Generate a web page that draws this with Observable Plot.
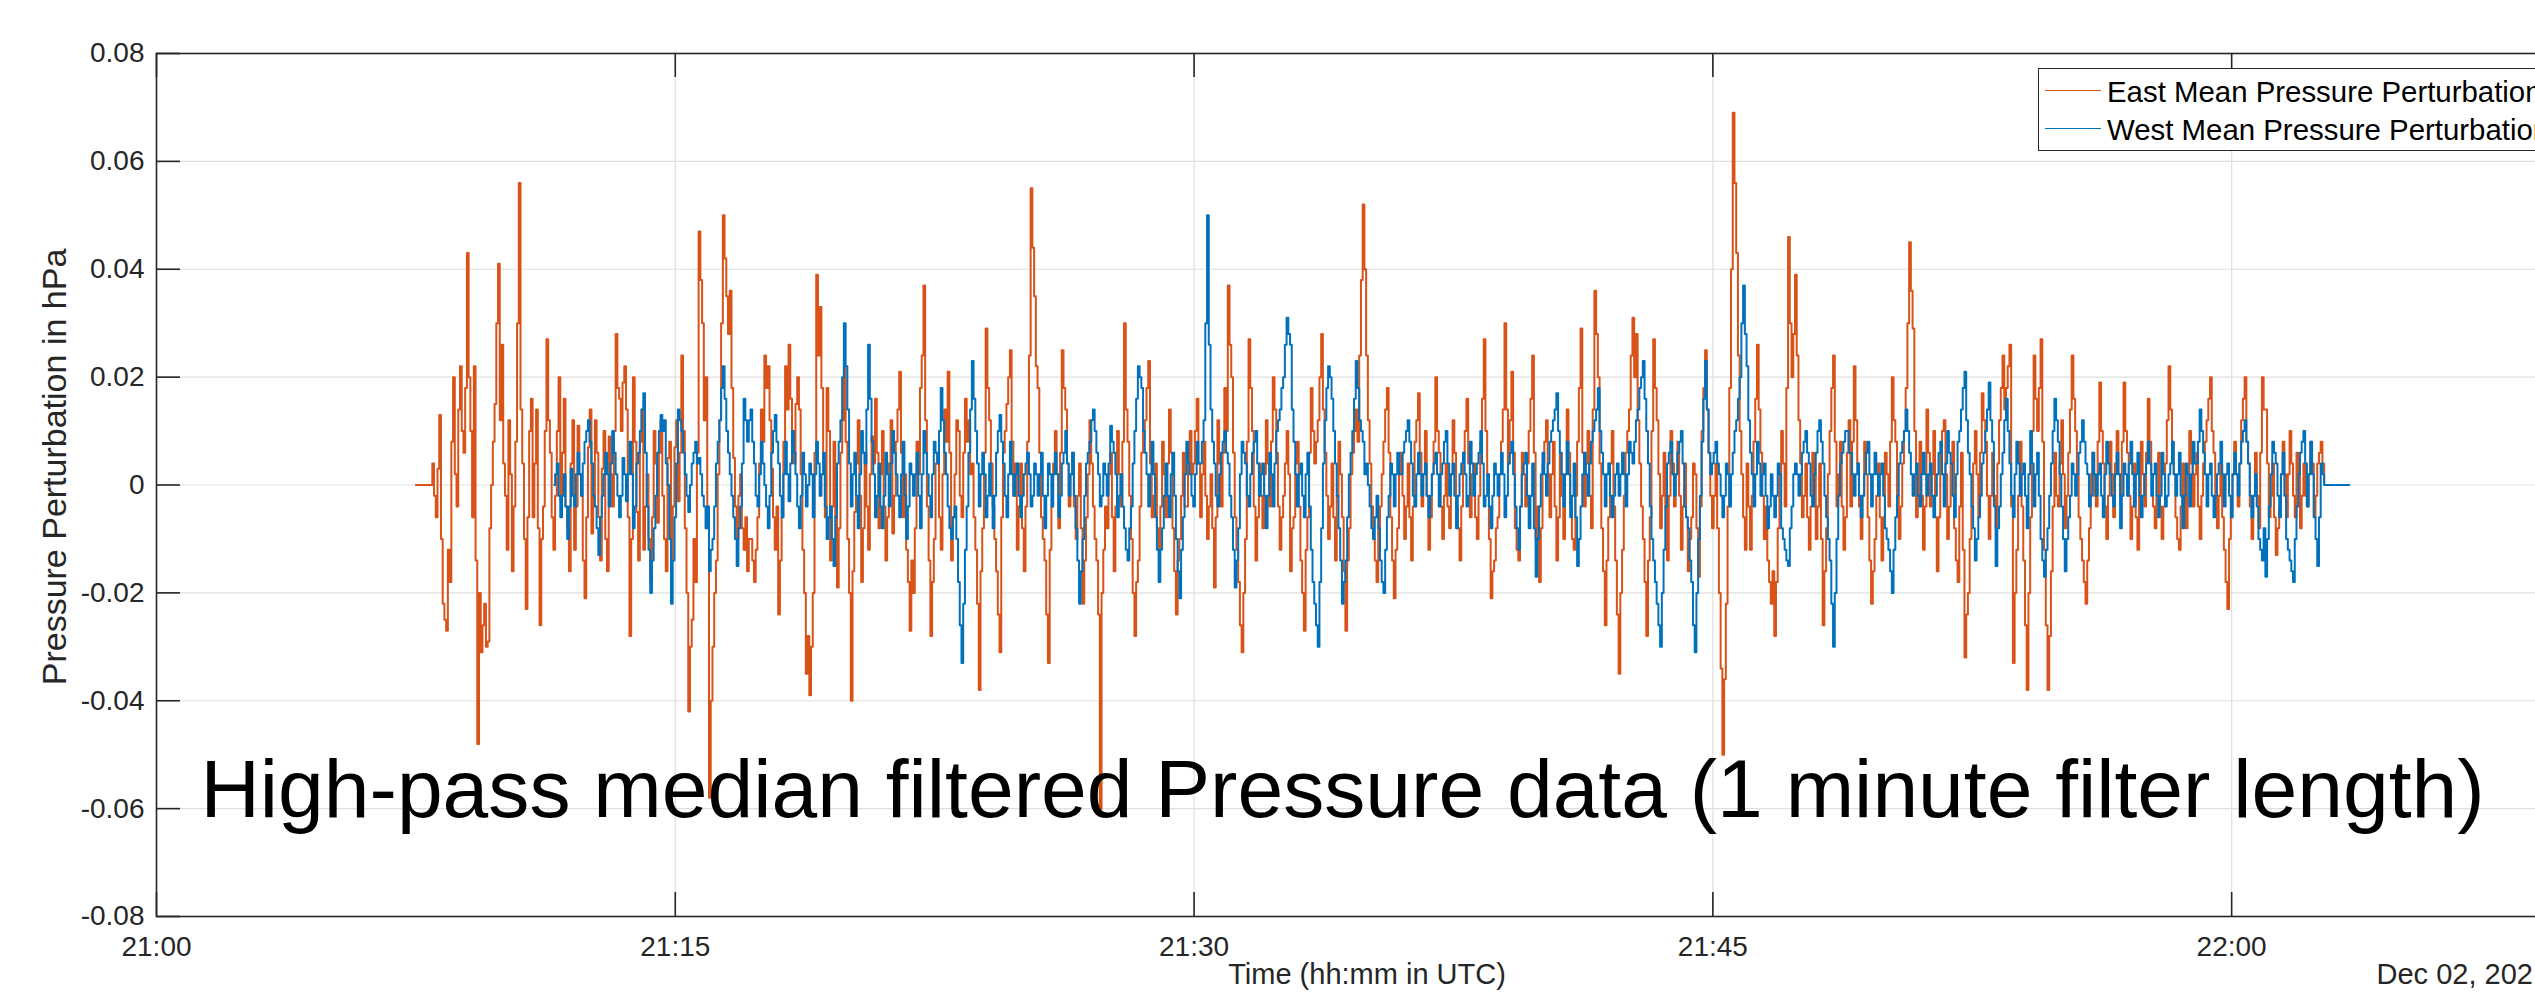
<!DOCTYPE html>
<html>
<head>
<meta charset="utf-8">
<script src="https://cdn.jsdelivr.net/npm/d3@7"></script>
<script src="https://cdn.jsdelivr.net/npm/@observablehq/plot@0.6"></script>
<style>
  html, body { margin: 0; padding: 0; background: #fff; overflow: hidden; }
  #wrap { position: relative; width: 2620px; height: 1005px; font-family: "Liberation Sans", Arial, Helvetica, sans-serif; }
  #legend { position: absolute; left: 2038px; top: 68px; width: 520px; height: 81px; border: 1.5px solid #262626; background: #fff; }
  .lg-line { position: absolute; left: 6px; width: 56px; height: 0; border-top: 1.5px solid; }
  .lg-text { position: absolute; left: 68px; font-size: 29.4px; color: #000; line-height: 1; white-space: nowrap; }
</style>
</head>
<body>
<div id="wrap"></div>
<script>
// ---- data (values in 0.001 hPa, one sample every 3 s) ----
const seriesNames = ["East Mean Pressure Perturbation", "West Mean Pressure Perturbation"];
const seriesColors = ["#D95319", "#0072BD"];
const sampleSeconds = 3;
const eastStart = "2021-12-02T21:07:30Z";
const westStart = "2021-12-02T21:11:30Z";

const eastValues = [
  0,0,0,0,0,0,0,0,0,0,
  4,-2,-6,3,13,-10,-22,-25,-27,-12,-18,8,20,2,-4,14,22,10,6,18,
  43,20,10,-6,22,-14,-48,-20,-31,-26,-22,-30,-29,-8,0,8,15,30,41,12,
  26,4,-2,-12,12,2,-16,-4,8,30,56,14,4,-10,-23,-6,10,16,-6,4,
  14,-8,-26,-10,-4,10,27,12,6,-6,-12,-2,10,20,-3,6,16,-4,-8,-16,
  4,12,-12,-4,11,2,-2,-14,-21,-6,7,14,-9,-2,12,6,-6,-14,3,10,
  -10,-16,9,2,-4,10,28,18,16,10,19,22,14,-6,-28,-10,20,8,-5,-14,
  8,14,-12,-4,2,-10,-18,-6,10,4,-7,6,12,-2,-10,-16,5,8,-14,-4,
  7,12,-3,6,24,10,-8,-20,-42,-30,-25,-10,-18,6,47,38,30,12,20,-4,
  -58,-40,-30,-20,-14,2,12,30,50,42,35,28,36,18,5,-4,-10,-2,2,-8,
  -12,-6,-16,-10,-10,-14,-18,-12,-6,4,14,8,24,18,22,12,3,-6,-12,-4,
  -24,-14,-6,8,22,14,26,16,10,4,15,20,14,2,-12,-20,-35,-28,-39,-30,
  -20,6,39,24,33,18,4,-6,18,10,-14,-4,8,-6,-19,-8,6,12,22,8,
  -10,-20,-40,-16,-5,4,12,-2,-18,-8,6,-4,-12,2,9,4,16,6,-8,2,
  10,-4,-14,-6,4,12,-9,-2,8,14,21,6,-6,2,-12,-18,-27,-14,-20,-8,
  8,2,18,24,37,12,-4,-14,-28,-18,-10,4,6,-6,-12,2,14,8,21,6,
  -14,-6,2,12,10,-2,-6,6,16,8,12,2,4,-6,-12,-22,-38,-16,-8,6,
  29,18,12,4,-4,-10,-16,-24,-31,-6,6,10,15,20,25,8,-2,4,-12,-4,
  4,-8,-16,-4,8,24,55,44,35,22,18,6,-6,-10,-14,-24,-33,-12,-4,4,
  10,2,-8,6,25,18,14,4,-4,2,6,-4,-10,-2,4,-8,-22,-14,-6,2,
  12,4,-4,-10,-14,-24,-60,-20,-12,-4,-8,2,6,-6,-16,-4,10,2,-4,8,
  30,14,8,-2,-10,-20,-28,-18,-14,-4,6,10,12,18,23,4,-6,-2,4,-8,
  -12,-4,8,2,-6,4,14,6,-8,-16,-24,-14,-10,-2,6,-4,-4,4,10,2,
  4,10,16,4,-6,2,8,-2,-10,-4,2,-8,-19,-6,12,4,-4,6,18,10,
  37,26,20,6,-6,-12,-18,-26,-31,-20,-10,8,27,18,10,-4,-14,-6,4,-2,
  -8,2,12,4,-4,8,20,14,6,-4,-12,-6,-2,4,10,2,-16,-8,-6,4,
  8,-4,-14,-20,-27,-12,-6,6,18,10,4,8,12,20,28,14,6,-2,-10,-4,
  4,-6,-14,-2,8,2,-6,-16,-27,-14,-8,2,6,10,14,8,24,38,52,40,
  24,12,4,-4,-10,-14,-18,-8,-4,2,8,14,18,6,-6,-14,-21,-12,-8,2,
  6,-2,-10,-4,4,-6,-14,-4,8,12,17,6,-4,2,10,-2,-12,-6,2,8,
  20,10,6,-4,-10,-2,4,-4,-8,2,12,6,-4,-8,-14,-4,6,10,16,4,
  -6,2,4,-6,-10,-2,8,16,27,10,2,-10,-21,-16,-14,-8,-6,2,8,14,
  30,14,4,12,21,6,-8,-12,-14,-4,6,2,-4,4,10,16,24,6,-10,-4,
  -18,-8,4,8,12,2,-6,2,8,-4,-14,-6,6,-2,-10,2,14,6,-4,-10,
  -12,-2,8,18,29,6,-4,4,10,-2,-8,14,36,28,20,4,-8,-16,-26,-14,
  -6,4,10,-4,-14,-24,-35,-20,-12,-2,6,10,14,24,31,20,28,12,4,-4,
  -10,-18,-28,-14,-6,10,27,18,12,2,-8,-2,6,-4,-14,-2,10,4,-4,2,
  8,-2,-12,-4,4,-6,-16,-10,-6,4,2,-8,-17,-4,10,18,25,14,6,-2,
  -8,-2,4,-8,-20,-34,-50,-36,-22,-4,18,40,69,56,43,24,10,2,-6,-12,
  4,-4,-12,-2,8,16,26,14,6,-2,-10,-4,-14,-18,-22,-16,-28,-18,-8,2,
  10,4,-4,18,46,30,20,28,39,24,12,4,-6,-2,4,-6,-12,-4,6,2,
  -10,-4,4,-10,-26,-16,-8,2,10,18,24,8,-4,2,8,-4,-12,-6,6,12,
  -4,8,22,12,4,-4,-10,-2,8,2,-6,-14,-22,-16,-10,-2,4,-6,-14,-6,
  6,2,-4,8,20,12,8,-2,-10,-4,4,10,18,30,45,36,29,10,-6,-2,
  8,-2,-12,-4,14,6,-4,2,10,-6,-16,-6,6,10,12,2,-10,-4,4,8,
  -8,-14,-18,-4,6,-12,-32,-24,-20,-10,-4,4,10,2,-6,6,17,12,8,-2,
  -10,-2,6,-2,-8,4,12,18,24,14,18,22,26,-4,-33,-20,-12,-2,8,-4,
  -14,-26,-38,-20,-6,10,24,16,10,18,27,8,-12,-26,-38,-28,-16,-4,6,-2,
  -4,4,12,2,-8,-2,6,14,24,16,10,2,-6,-10,-14,-18,-22,-14,-8,2,
  6,-2,-4,8,19,10,4,-4,-10,-2,8,2,-6,4,10,2,-2,8,19,10,
  6,-2,-10,-4,4,-6,-12,-2,8,2,-4,6,16,8,2,-4,-8,-2,6,-4,
  -10,-4,4,12,22,14,8,2,-6,-10,-12,-4,4,-2,-8,2,10,4,-4,2,
  6,-4,-10,-2,4,8,12,16,20,10,6,-2,-8,-2,4,-6,-12,-18,-23,-10,
  -6,2,8,2,-4,4,12,16,20,8,4,-4,-10,-2,6,-2,-8,6,20,14,
  14,4,-6,-2,4,-6,-13,-8,-4,2,8,2,-6,2,10,4,-2,-6,6,2,
  -8,-2,4,-2,-4,2,8,4,-6,-2,4,6,8,4,0
];

const westValues = [
  0,2,4,-2,-6,-2,2,-4,-10,-4,
  3,-2,-4,2,6,2,-2,4,8,10,12,8,4,-2,-4,-8,-13,-6,-2,2,
  6,2,-4,4,10,6,2,-2,-6,-2,5,2,-3,2,8,2,-8,-4,4,6,
  10,14,17,6,-4,-12,-20,-14,-8,-2,6,10,13,10,12,4,0,-10,-22,-14,
  -6,4,14,12,10,6,2,-2,-5,0,4,6,8,4,5,2,-2,-4,-8,-4,
  -16,-12,-10,-4,4,8,12,18,22,16,10,6,2,-2,-6,-10,-15,-8,-4,4,
  16,12,8,12,14,8,4,-2,-4,2,8,4,0,-4,-8,-2,6,10,13,8,
  4,-2,-6,2,8,2,-3,4,10,6,2,-4,-8,-2,6,2,-4,0,4,2,
  -6,2,8,4,-2,2,6,-4,-10,-6,-4,-10,-15,-6,4,8,12,20,30,22,
  14,4,-4,2,6,-2,-8,2,10,6,4,14,26,16,8,2,-6,-2,4,-4,
  -8,-2,6,2,-4,4,10,6,2,-2,-6,2,8,-2,-10,-4,4,2,-2,2,
  6,-2,-8,2,10,6,2,-2,-6,2,8,6,4,10,18,12,6,2,-4,-8,
  -10,-6,-4,-10,-18,-26,-33,-22,-12,-4,6,14,23,16,10,4,-4,2,6,2,
  -6,-2,4,-2,-8,-2,6,10,13,8,4,-2,-6,2,8,2,-2,2,4,-2,
  -6,-2,2,4,6,2,-4,-2,4,2,-2,2,6,-2,-8,-2,4,2,-4,2,
  6,2,-6,-2,4,6,10,4,-2,2,6,-2,-8,-14,-22,-16,-10,-2,4,6,
  8,12,14,10,6,2,-4,-2,4,2,-2,4,11,8,6,2,-6,-2,2,-4,
  -8,-12,-14,-8,-4,4,10,16,22,20,18,10,6,2,-4,2,8,2,-6,-12,
  -18,-12,-8,-2,4,-2,-6,2,6,-2,-10,-16,-21,-12,-6,2,8,4,2,-2,
  -4,2,8,4,4,8,12,30,50,26,14,8,4,-2,-4,2,6,8,10,6,
  4,-2,-6,-12,-19,-14,-8,2,8,6,4,-2,-4,2,6,8,10,4,-2,2,
  4,-2,-8,-2,6,2,-4,4,10,12,14,18,20,26,31,28,26,14,8,2,
  -4,2,4,-2,-6,2,6,-4,-12,-18,-22,-26,-30,-18,-8,4,12,18,22,20,
  16,10,4,-2,-8,-14,-22,-18,-14,-6,2,6,10,16,23,18,12,10,8,2,
  4,0,-4,-8,-10,-6,-2,-8,-14,-18,-20,-12,-6,-2,4,2,-4,2,6,2,
  2,6,8,10,12,8,4,-2,-4,2,6,2,-2,2,4,-2,-6,-2,2,4,
  6,2,-4,2,4,8,10,4,-2,2,4,-2,-8,-2,2,4,6,2,-4,-2,
  8,4,-2,2,4,6,10,4,-4,-2,2,-4,-8,-2,4,2,-2,2,6,2,
  -6,-2,4,6,8,2,-4,-8,-12,-4,2,4,6,-2,-8,-2,4,-8,-17,-10,
  -4,2,6,2,-2,4,8,10,12,14,17,10,6,2,-4,2,8,2,-6,-2,
  4,-6,-15,-10,-4,2,6,2,-2,4,8,10,12,14,18,10,6,2,-4,2,
  4,-2,-6,-2,2,4,-2,2,6,2,-4,2,8,6,4,8,12,14,18,20,
  23,16,10,4,-4,-10,-14,-18,-22,-26,-30,-20,-12,-4,4,6,8,2,-2,2,
  6,8,10,4,-4,-6,-8,-14,-18,-26,-31,-20,-10,-2,8,16,23,14,6,2,
  4,6,8,4,2,-2,-6,-2,4,2,-4,2,6,10,12,16,20,30,37,28,
  22,12,6,2,-4,2,8,4,-2,2,4,-2,-8,-4,2,-2,-6,-2,4,2,
  -8,-10,-12,-14,-15,-8,-4,2,4,2,-2,2,6,8,10,6,4,-2,-4,2,
  6,10,12,8,4,-2,-6,-10,-14,-22,-30,-20,-10,-2,4,6,8,10,10,6,
  6,2,-2,2,4,-2,-6,-2,2,6,8,2,-4,2,6,2,-2,2,4,-2,
  -8,-10,-12,-16,-20,-12,-6,-2,4,6,8,10,14,10,6,2,-2,2,4,-2,
  -4,2,6,2,-2,2,4,-2,-6,-2,2,6,8,2,-4,4,10,6,4,-2,
  -6,2,8,10,14,18,21,12,6,2,-4,-8,-14,-10,-6,-2,4,6,10,14,
  19,12,8,-4,-15,-8,-4,2,6,12,16,10,4,-2,-6,2,8,4,-2,2,
  4,-2,-8,2,10,4,-4,2,6,-2,-10,-14,-17,-12,-8,-2,4,10,16,12,
  8,2,-4,-10,-16,-10,-6,-2,4,2,-2,2,6,8,12,8,4,2,-4,-2,
  6,2,-2,2,4,-2,-6,2,8,4,2,-2,-4,2,6,2,-8,-2,4,2,
  -2,4,8,2,-4,2,6,-2,-6,-2,2,4,8,4,-2,2,4,-2,-6,-2,
  6,2,-4,-2,2,4,8,2,-2,2,6,-2,-8,-2,4,2,-4,2,8,4,
  4,8,14,10,6,2,-4,2,4,-2,-6,-2,2,4,8,2,-4,2,4,-2,
  -6,2,6,2,-2,4,8,10,12,8,4,-2,-6,-2,2,-4,-10,-12,-14,-8,
  -17,-10,-4,2,8,6,4,-2,-6,2,6,-2,-10,-12,-14,-16,-18,-10,-4,2,
  6,8,10,4,-4,2,8,2,-6,-10,-15,-6,4,2,0,
  0,0,0,0,0,0,0,0,0,0,0,0,0,0
];

// ---- axes ----
const xDomain = ["2021-12-02T21:00:00Z", "2021-12-02T22:10:00Z"];
const xTickTimes = ["2021-12-02T21:00:00Z", "2021-12-02T21:15:00Z", "2021-12-02T21:30:00Z", "2021-12-02T21:45:00Z", "2021-12-02T22:00:00Z"];
const yTicks = [-0.08, -0.06, -0.04, -0.02, 0, 0.02, 0.04, 0.06, 0.08];
const yDomain = [-0.08, 0.08];
const xLabel = "Time (hh:mm in UTC)";
const yLabel = "Pressure Perturbation in hPa";
const dateLabel = "Dec 02, 2021";
const titleText = "High-pass median filtered Pressure data (1 minute filter length)";

const toSeries = (startIso, values) => {
  const t0 = new Date(startIso).getTime();
  return values.map((v, i) => ({ t: new Date(t0 + i * sampleSeconds * 1000), v: v / 1000 }));
};
const east = toSeries(eastStart, eastValues);
const west = toSeries(westStart, westValues);
const xTicks = xTickTimes.map(s => new Date(s));

const W = 2620, H = 1005, mL = 156, mR = 43, mT = 53, mB = 89;
const frameW = W - mL - mR, frameH = H - mT - mB;
const tickLen = 24;
const ink = "#262626";
const fmtY = d => d === 0 ? "0" : d.toFixed(2);

const chart = Plot.plot({
  width: W, height: H,
  marginLeft: mL, marginRight: mR, marginTop: mT, marginBottom: mB,
  style: { fontFamily: "'Liberation Sans', Arial, Helvetica, sans-serif", fontSize: "28px", color: ink, background: "#fff", overflow: "visible" },
  x: { type: "utc", domain: xDomain.map(s => new Date(s)) },
  y: { domain: yDomain },
  marks: [
    Plot.gridX(xTicks, { stroke: "#dfdfdf", strokeOpacity: 1, strokeWidth: 1.2 }),
    Plot.gridY(yTicks, { stroke: "#dfdfdf", strokeOpacity: 1, strokeWidth: 1.2 }),
    Plot.line(east, { x: "t", y: "v", stroke: seriesColors[0], strokeWidth: 2, curve: "step" }),
    Plot.line(west, { x: "t", y: "v", stroke: seriesColors[1], strokeWidth: 2, curve: "step" }),
    Plot.frame({ stroke: ink, strokeWidth: 1.6 }),
    Plot.tickX(xTicks, { x: d => d, insetTop: frameH - tickLen, stroke: ink, strokeWidth: 1.6 }),
    Plot.tickX(xTicks, { x: d => d, insetBottom: frameH - tickLen, stroke: ink, strokeWidth: 1.6 }),
    Plot.tickY(yTicks, { y: d => d, insetRight: frameW - tickLen, stroke: ink, strokeWidth: 1.6 }),
    Plot.tickY(yTicks, { y: d => d, insetLeft: frameW - tickLen, stroke: ink, strokeWidth: 1.6 }),
    Plot.axisX(xTicks, { tickSize: 0, tickPadding: 20, tickFormat: d3.utcFormat("%H:%M"), label: null, fontSize: 28, fill: ink }),
    Plot.axisY(yTicks, { tickSize: 0, tickPadding: 12, tickFormat: fmtY, label: null, fontSize: 28, fill: ink }),
    Plot.text([yLabel], { frameAnchor: "left", dx: -101, dy: -18, rotate: -90, textAnchor: "middle", fontSize: 34, fill: ink }),
    Plot.text([xLabel], { frameAnchor: "bottom", dy: 67, textAnchor: "middle", fontSize: 29, fill: ink }),
    Plot.text([dateLabel], { frameAnchor: "bottom-left", dx: 2220, dy: 67, textAnchor: "start", fontSize: 29, fill: ink }),
    Plot.text([titleText], { frameAnchor: "top-left", dx: 44, dy: 705, textAnchor: "start", fontSize: 82.2, fill: "#000" })
  ]
});

const wrap = document.getElementById("wrap");
wrap.appendChild(chart);

// legend (HTML, over the axes, top right)
const legend = document.createElement("div");
legend.id = "legend";
seriesNames.forEach((name, i) => {
  const line = document.createElement("div");
  line.className = "lg-line";
  line.style.borderTopColor = seriesColors[i];
  line.style.top = (i === 0 ? 21 : 59) + "px";
  const txt = document.createElement("div");
  txt.className = "lg-text";
  txt.style.top = (i === 0 ? 8 : 46) + "px";
  txt.textContent = name;
  legend.appendChild(line);
  legend.appendChild(txt);
});
wrap.appendChild(legend);
</script>
</body>
</html>
